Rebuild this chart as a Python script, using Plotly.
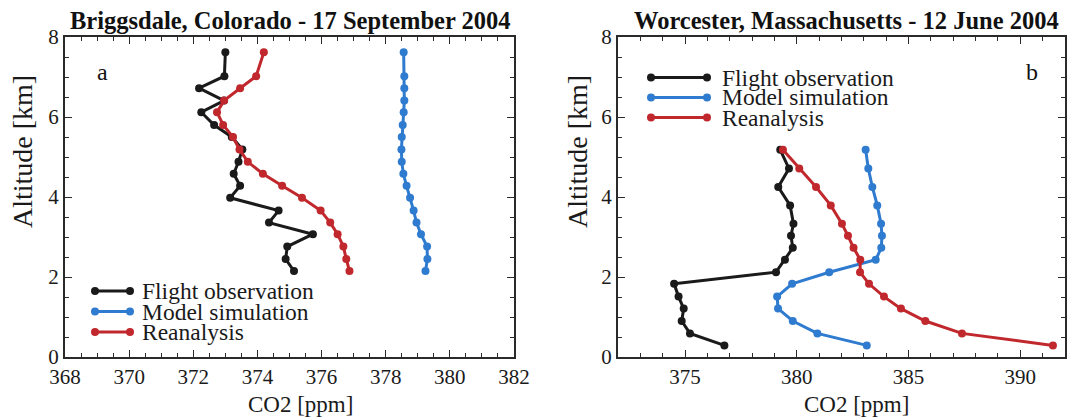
import plotly.graph_objects as go

W, H = 1068, 418

# ---------------- data ----------------
series_names = ["Flight observation", "Model simulation", "Reanalysis"]
series_colors = ["#1a1a1a", "#2f7bcf", "#c1282d"]

titles = ["Briggsdale, Colorado - 17 September 2004",
          "Worcester, Massachusetts - 12 June 2004"]
panel_labels = ["a", "b"]

# Panel a (Briggsdale)
alt_a = [7.62, 7.02, 6.72, 6.41, 6.12, 5.80, 5.50, 5.19, 4.88, 4.58, 4.28, 3.98,
         3.66, 3.36, 3.07, 2.76, 2.45, 2.15]
flight_a = [373.00, 372.97, 372.18, 372.96, 372.25, 372.65, 373.20, 373.53, 373.41,
            373.26, 373.46, 373.15, 374.66, 374.36, 375.73, 374.93, 374.88, 375.14]
model_a = [378.56, 378.58, 378.58, 378.58, 378.56, 378.53, 378.50, 378.49, 378.50,
           378.55, 378.65, 378.76, 378.87, 378.96, 379.10, 379.29, 379.30, 379.24]
rean_a = [374.20, 373.96, 373.46, 372.96, 372.74, 372.93, 373.24, 373.44, 373.70,
          374.17, 374.77, 375.39, 375.97, 376.27, 376.50, 376.68, 376.77, 376.87]

# Panel b (Worcester)
alt_b = [5.18, 4.71, 4.25, 3.79, 3.33, 3.03, 2.73, 2.43, 2.12, 1.83, 1.51, 1.21,
         0.90, 0.59, 0.29]
flight_b = [379.26, 379.65, 379.17, 379.70, 379.85, 379.74, 379.82, 379.47, 379.07,
            374.51, 374.71, 374.94, 374.85, 375.22, 376.76]
model_b = [383.08, 383.20, 383.38, 383.60, 383.77, 383.81, 383.78, 383.53, 381.45,
           379.79, 379.12, 379.16, 379.82, 380.92, 383.13]
rean_b = [379.38, 380.11, 380.86, 381.52, 382.02, 382.29, 382.54, 382.84, 382.83,
          383.23, 383.90, 384.66, 385.75, 387.39, 391.46]

x_title = "CO2 [ppm]"
y_title = "Altitude [km]"

# ---------------- layout helpers ----------------
def px_x(p):
    return p / W

def px_y(p):
    return (H - p) / H

FONT = "Liberation Serif"
AX = "#2a2a2a"

dom_a = [px_x(65), px_x(514)]
dom_b = [px_x(618), px_x(1065)]
dom_y = [px_y(357), px_y(37)]

fig = go.Figure()

panels = [
    ("x", "y", alt_a, [flight_a, model_a, rean_a]),
    ("x2", "y2", alt_b, [flight_b, model_b, rean_b]),
]
for xa, ya, alt, vals in panels:
    for name, color, v in zip(series_names, series_colors, vals):
        fig.add_trace(go.Scatter(
            x=v, y=alt, mode="lines+markers", name=name,
            line=dict(color=color, width=3),
            marker=dict(color=color, size=8),
            xaxis=xa, yaxis=ya, showlegend=False,
        ))

def xaxis(domain, rng, dtick, mdtick, anchor):
    return dict(
        domain=domain, range=rng, anchor=anchor, dtick=dtick, tick0=0,
        automargin=False,
        showgrid=False, zeroline=False, showline=True, linewidth=2, linecolor=AX,
        mirror="allticks", ticks="inside", ticklen=7, tickwidth=1.3, tickcolor=AX,
        minor=dict(dtick=mdtick, tick0=0, ticks="inside", ticklen=4, tickwidth=1.2,
                   tickcolor=AX, showgrid=False),
        tickfont=dict(family=FONT, size=21, color="#1a1a1a"),
    )

def yaxis(anchor):
    return dict(
        domain=dom_y, range=[0, 8], anchor=anchor, dtick=2, tick0=0,
        automargin=False,
        showgrid=False, zeroline=False, showline=True, linewidth=2, linecolor=AX,
        mirror="allticks", ticks="inside", ticklen=7, tickwidth=1.3, tickcolor=AX,
        minor=dict(dtick=0.5, tick0=0, ticks="inside", ticklen=4, tickwidth=1.2,
                   tickcolor=AX, showgrid=False),
        tickfont=dict(family=FONT, size=21, color="#1a1a1a"),
    )

fig.update_layout(
    width=W, height=H,
    margin=dict(l=0, r=0, t=0, b=0, autoexpand=False),
    paper_bgcolor="white", plot_bgcolor="white",
    showlegend=False,
    font=dict(family=FONT),
    xaxis=xaxis(dom_a, [368, 382], 2, 0.5, "y"),
    yaxis=yaxis("x"),
    xaxis2=xaxis(dom_b, [372, 392], 5, 1, "y2"),
    yaxis2=yaxis("x2"),
)

anns = []
shapes = []

# titles
for cx, t in zip([290, 846], titles):
    anns.append(dict(x=px_x(cx), y=px_y(20), xref="paper", yref="paper", text=t,
                     showarrow=False, xanchor="center", yanchor="middle",
                     font=dict(family=FONT, size=24.5, color="#111111", weight="bold")))
# panel labels
for cx, t in zip([102, 1032], panel_labels):
    anns.append(dict(x=px_x(cx), y=px_y(72), xref="paper", yref="paper", text=t,
                     showarrow=False, xanchor="center", yanchor="middle",
                     font=dict(family=FONT, size=24, color="#111111")))
# axis titles
for cx in [300, 856]:
    anns.append(dict(x=px_x(cx), y=px_y(404), xref="paper", yref="paper", text=x_title,
                     showarrow=False, xanchor="center", yanchor="middle",
                     font=dict(family=FONT, size=23, color="#1a1a1a")))
for cx in [22, 577]:
    anns.append(dict(x=px_x(cx), y=px_y(152), xref="paper", yref="paper", text=y_title,
                     showarrow=False, xanchor="center", yanchor="middle", textangle=-90,
                     font=dict(family=FONT, size=28, color="#1a1a1a")))

# legends (one per panel)
legend_specs = [
    (95, 130, 140, [291, 311.5, 332]),
    (651, 707, 720, [77.5, 97.5, 117.5]),
]
for x0, x1, tx, rows in legend_specs:
    for name, color, ry in zip(series_names, series_colors, rows):
        shapes.append(dict(type="line", xref="paper", yref="paper",
                           x0=px_x(x0), x1=px_x(x1), y0=px_y(ry), y1=px_y(ry),
                           line=dict(color=color, width=3)))
        for cxp in (x0, x1):
            shapes.append(dict(type="circle", xref="paper", yref="paper",
                               x0=px_x(cxp - 4), x1=px_x(cxp + 4),
                               y0=px_y(ry + 4), y1=px_y(ry - 4),
                               fillcolor=color, line=dict(color=color, width=0)))
        anns.append(dict(x=px_x(tx), y=px_y(ry), xref="paper", yref="paper", text=name,
                         showarrow=False, xanchor="left", yanchor="middle",
                         font=dict(family=FONT, size=23.5, color="#1a1a1a")))

fig.update_layout(annotations=anns, shapes=shapes)
fig.write_html(
    "out.html",
    config={"displayModeBar": False},
    post_script="document.body.style.margin='0';document.body.style.overflow='hidden';",
)
